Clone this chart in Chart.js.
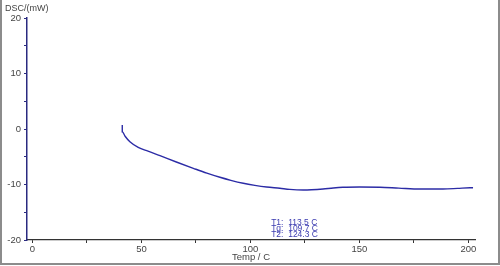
<!DOCTYPE html>
<html>
<head>
<meta charset="utf-8">
<script src="https://cdn.jsdelivr.net/npm/chart.js@4.4.1/dist/chart.umd.min.js"></script>
<style>
  html, body { margin: 0; padding: 0; background: #fff; }
  #wrap { position: relative; width: 500px; height: 266px; overflow: hidden; }
  #frame { position: absolute; left: 0; top: -3px; width: 500px; height: 268px; box-sizing: border-box;
           border: 2px solid #8c8c8c; pointer-events: none; }
  canvas { position: absolute; left: 0; top: 0; }
</style>
</head>
<body>
<div id="wrap">
  <canvas id="c" width="500" height="266"></canvas>
  <div id="frame"></div>
</div>
<script>
// Temperature (C) and DSC signal (mW)
const temps = [41.2, 41.2, 42.5, 44.7, 48.5, 53, 58.5, 66, 73.8, 80, 86.0, 91, 96.7, 102, 107.4, 113.5, 118, 124.2, 128, 133.3, 138, 142.4, 150, 159.4, 168, 177.8, 188.3, 195, 200.7, 202.1];
const dsc   = [0.72, -0.49, -1.3, -2.29, -3.30, -4.0, -4.81, -5.95, -7.08, -7.95, -8.70, -9.25, -9.78, -10.15, -10.45, -10.68, -10.88, -10.99, -10.95, -10.81, -10.62, -10.50, -10.45, -10.50, -10.65, -10.81, -10.81, -10.70, -10.58, -10.58];
const xTicks = [0, 25, 50, 75, 100, 125, 150, 175, 200];
const xLabels = [0, 50, 100, 150, 200];
const yTicks = [-20, -15, -10, -5, 0, 5, 10, 15, 20];
const yLabels = [-20, -10, 0, 10, 20];
const annotations = ["T1:  113.5 C", "Tg:  109.7 C", "T2:  124.3 C"];
const yTitle = "DSC/(mW)";
const xTitle = "Temp / C";

const points = temps.map((t, i) => ({ x: t, y: dsc[i] }));

const textPlugin = {
  id: 'texts',
  afterDraw(chart) {
    const ctx = chart.ctx;
    const xs = chart.scales.x, ys = chart.scales.y;
    ctx.save();
    ctx.font = '9px "Liberation Sans", Arial, sans-serif';
    ctx.fillStyle = '#444';
    ctx.textBaseline = 'middle';
    ctx.textAlign = 'left';
    ctx.fillText(yTitle, 5, 8.5);
    ctx.fillStyle = '#3b3bb0';
    ctx.font = '8.5px "Liberation Sans", Arial, sans-serif';
    const ax = xs.getPixelForValue(109.5);
    annotations.forEach((s, i) => {
      ctx.fillText(s, ax, ys.getPixelForValue(-16.8) + i * 6);
    });
    ctx.restore();
  }
};

new Chart(document.getElementById('c'), {
  type: 'scatter',
  data: {
    datasets: [{
      data: points,
      showLine: true,
      borderColor: '#2c2ca6',
      borderWidth: 1.4,
      pointRadius: 0,
      tension: 0.3,
      cubicInterpolationMode: 'monotone',
      fill: false
    }]
  },
  options: {
    responsive: false,
    animation: false,
    events: [],
    layout: { padding: { left: 0, right: 25, top: 18, bottom: 0 } },
    plugins: { legend: { display: false }, tooltip: { enabled: false } },
    scales: {
      x: {
        type: 'linear',
        min: -2.5, max: 203,
        afterBuildTicks: s => { s.ticks = xTicks.map(v => ({ value: v })); },
        afterFit: s => { s.height = 26; },
        border: { display: true, color: '#333', width: 1.2 },
        grid: { drawOnChartArea: false, drawTicks: true, tickLength: 3, color: '#333' },
        ticks: {
          color: '#444', padding: 1, maxRotation: 0, autoSkip: false,
          font: { family: '"Liberation Sans", Arial, sans-serif', size: 9.5 },
          callback: v => xLabels.includes(v) ? String(v) : ''
        },
        title: {
          display: true, text: xTitle, color: '#444', padding: { top: 0, bottom: 3 },
          font: { family: '"Liberation Sans", Arial, sans-serif', size: 9.5 }
        }
      },
      y: {
        type: 'linear',
        min: -20, max: 20,
        afterBuildTicks: s => { s.ticks = yTicks.map(v => ({ value: v })); },
        afterFit: s => { s.width = 27; },
        border: { display: true, color: '#2a2a80', width: 1.5 },
        grid: { drawOnChartArea: false, drawTicks: true, tickLength: 3, color: '#2a2a80' },
        ticks: {
          color: '#444', padding: 3, autoSkip: false,
          font: { family: '"Liberation Sans", Arial, sans-serif', size: 9.5 },
          callback: v => yLabels.includes(v) ? String(v) : ''
        }
      }
    }
  },
  plugins: [textPlugin]
});
</script>
</body>
</html>
